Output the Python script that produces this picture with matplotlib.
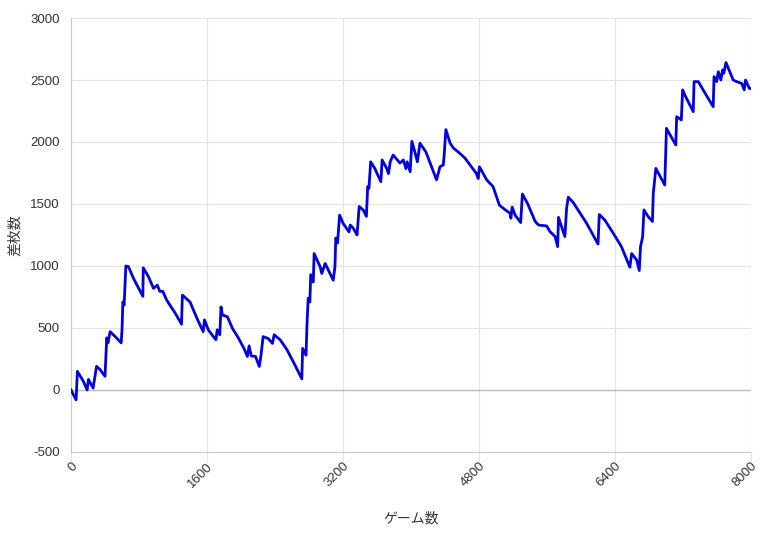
import matplotlib
matplotlib.use("Agg")
import matplotlib.pyplot as plt

plt.rcParams['font.family'] = ['Liberation Sans', 'Noto Sans CJK JP', 'DejaVu Sans']
plt.rcParams['axes.unicode_minus'] = False

# ゲーム数 / 差枚数
games = [0, 60, 75, 145, 190, 205, 260, 280, 300, 340, 400, 420, 435, 460, 520,
         590, 600, 610, 625, 645, 675, 735, 845, 850, 910, 970, 1015, 1045, 1080,
         1125, 1225, 1300, 1310, 1400, 1480, 1555, 1570, 1615, 1675, 1705, 1720,
         1750, 1765, 1780, 1840, 1900, 1960, 2035, 2075, 2095, 2120, 2170, 2215,
         2235, 2260, 2320, 2370, 2390, 2460, 2540, 2635, 2715, 2725, 2765, 2775,
         2790, 2810, 2820, 2850, 2860, 2930, 2950, 2990, 3085, 3105, 3115, 3135,
         3160, 3200, 3270, 3285, 3320, 3365, 3390, 3440, 3475, 3490, 3505, 3525,
         3575, 3645, 3660, 3715, 3735, 3755, 3790, 3840, 3870, 3910, 3940, 3955,
         3990, 4010, 4045, 4075, 4105, 4175, 4300, 4320, 4340, 4380, 4390, 4410,
         4460, 4500, 4555, 4635, 4770, 4790, 4805, 4890, 4965, 5040, 5105, 5165,
         5175, 5190, 5225, 5290, 5310, 5370, 5460, 5500, 5595, 5635, 5695, 5725,
         5735, 5810, 5830, 5850, 5905, 6065, 6200, 6215, 6280, 6380, 6475, 6575,
         6595, 6655, 6685, 6700, 6725, 6740, 6790, 6840, 6850, 6880, 6985, 6995,
         7005, 7115, 7125, 7180, 7195, 7240, 7280, 7320, 7330, 7380, 7460, 7555,
         7565, 7595, 7615, 7645, 7665, 7680, 7705, 7750, 7790, 7830, 7890, 7920,
         7935, 7980, 8000]
diff = [0, -80, 150, 70, 0, 85, 15, 105, 190, 165, 110, 420, 380, 470, 430,
        380, 485, 710, 685, 1000, 995, 900, 755, 985, 915, 820, 845, 795, 795,
        725, 620, 530, 765, 710, 580, 470, 565, 485, 430, 405, 485,
        445, 670, 605, 590, 495, 430, 335, 270, 355, 275, 270, 190,
        280, 430, 415, 375, 445, 405, 325, 200, 90, 335, 280, 510,
        740, 710, 930, 870, 1100, 995, 940, 1020, 885, 995, 1225, 1185,
        1410, 1345, 1275, 1330, 1305, 1250, 1480, 1450, 1400, 1640, 1625, 1840,
        1785, 1680, 1855, 1785, 1745, 1840, 1895, 1855, 1830, 1855, 1785, 1840,
        1760, 2005, 1920, 1840, 1990, 1920, 1695, 1745, 1800, 1815, 1895, 2100,
        1990, 1950, 1920, 1870, 1745, 1705, 1800, 1695, 1640, 1490, 1455, 1425,
        1385, 1475, 1410, 1350, 1580, 1505, 1360, 1330, 1323, 1277, 1237, 1156,
        1392, 1237, 1465, 1555, 1515, 1345, 1177, 1415, 1370, 1263, 1156, 990,
        1100, 1048, 963, 1156, 1237, 1452, 1398, 1359, 1586, 1787, 1653, 1895,
        2110, 1976, 2204, 2178, 2420, 2353, 2299, 2245, 2487, 2487, 2393, 2285,
        2527, 2487, 2567, 2500, 2581, 2554, 2641, 2567, 2500, 2487, 2473, 2420,
        2500, 2433, 2430]

x_ticks = [0, 1600, 3200, 4800, 6400, 8000]
y_ticks = [-500, 0, 500, 1000, 1500, 2000, 2500, 3000]

fig = plt.figure(figsize=(7.62, 5.38), dpi=100)
ax = fig.add_axes([0.0932, 0.160, 0.8924, 0.8065])

ax.plot(games, diff, color='#0000dd', linewidth=2.0, zorder=3)

ax.set_xlim(0, 8000)
ax.set_ylim(-500, 3000)
ax.set_xticks(x_ticks)
ax.set_yticks(y_ticks)
ax.set_xticklabels([str(v) for v in x_ticks], rotation=45, ha='right', va='top',
                   rotation_mode='anchor')

ax.grid(True, color='#e4e4e4', linewidth=0.8)
ax.set_axisbelow(True)
ax.axhline(0, color='#bdbdbd', linewidth=1.0, zorder=2)

for side in ['top', 'right']:
    ax.spines[side].set_visible(False)
ax.spines['left'].set_color('#c8c8c8')
ax.spines['bottom'].set_color('#c8c8c8')

ax.tick_params(axis='x', length=7, color='#e4e4e4', labelsize=9.5, labelcolor='#333333', pad=-1)
ax.tick_params(axis='y', length=0, labelsize=9.5, labelcolor='#333333', pad=8)

ax.set_xlabel('ゲーム数', fontsize=10, color='#333333', labelpad=16)
ax.set_ylabel('差枚数', fontsize=10, color='#333333', labelpad=6)

fig.savefig('out.png', dpi=100)
